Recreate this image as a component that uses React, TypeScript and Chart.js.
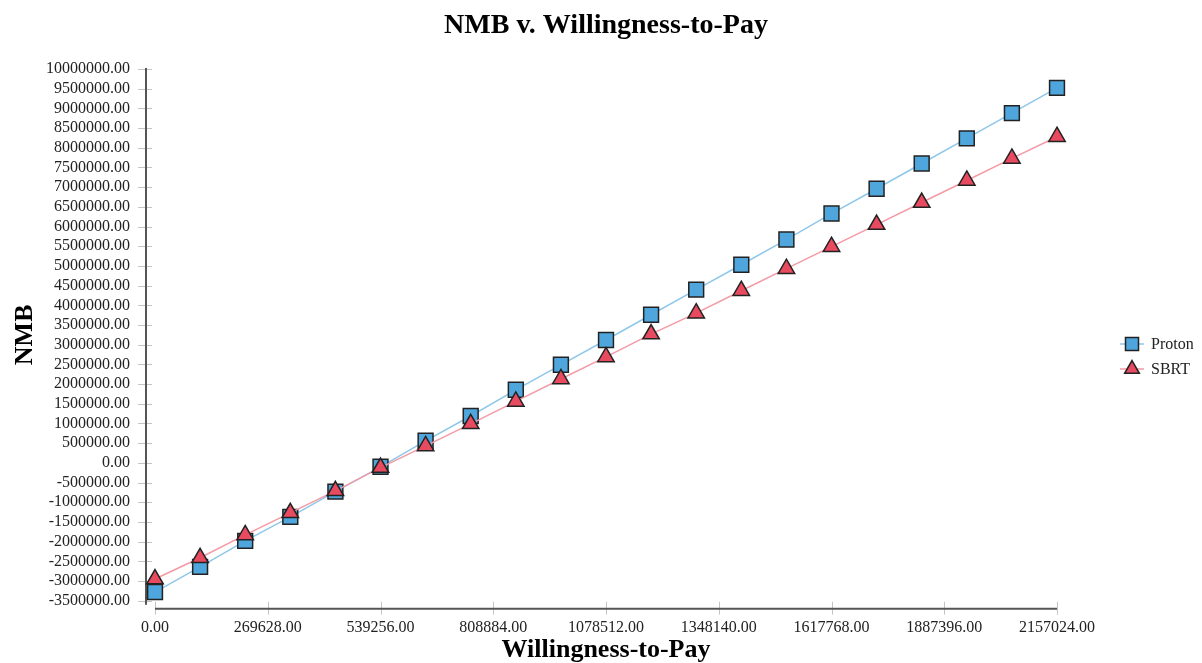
import React, { useEffect, useRef } from "react";
import { Chart, registerables } from "chart.js";

Chart.register(...registerables);

const chartTitle = "NMB v. Willingness-to-Pay";
const xTitle = "Willingness-to-Pay";
const yTitle = "NMB";

const wtp = [
  0, 107851.2, 215702.4, 323553.6, 431404.8, 539256, 647107.2, 754958.4,
  862809.6, 970660.8, 1078512, 1186363.2, 1294214.4, 1402065.6, 1509916.8,
  1617768, 1725619.2, 1833470.4, 1941321.6, 2049172.8, 2157024,
];

const protonNmb = [
  -3280000, -2640000, -1980000, -1370000, -730000, -100000, 560000, 1190000,
  1855000, 2490000, 3120000, 3760000, 4400000, 5030000, 5670000, 6330000,
  6960000, 7600000, 8240000, 8880000, 9520000,
];

const sbrtNmb = [
  -2950000, -2410000, -1830000, -1270000, -710000, -120000, 430000, 990000,
  1560000, 2130000, 2690000, 3270000, 3800000, 4370000, 4930000, 5490000,
  6050000, 6610000, 7170000, 7730000, 8280000,
];

const xMin = 0;
const xMax = 2157024;
const xStep = 269628;
const yMin = -3500000;
const yMax = 10000000;
const yStep = 500000;

const FONT = "'Liberation Serif', 'Times New Roman', serif";

const seriesStyles = [
  { label: "Proton", data: protonNmb, line: "#8ec7ea", fill: "#4ea6dc", shape: "rect", order: 1 },
  { label: "SBRT", data: sbrtNmb, line: "#f39aa5", fill: "#e84a5f", shape: "triangle", order: 0 },
];

const titlePlugin = {
  id: "centeredTitle",
  afterDraw(chart: any) {
    const { ctx } = chart;
    ctx.save();
    ctx.font = `bold 28px ${FONT}`;
    ctx.fillStyle = "#000";
    ctx.textAlign = "center";
    ctx.textBaseline = "middle";
    ctx.fillText(chartTitle, chart.width / 2 + 5, 26);
    ctx.restore();
  },
};

const axesPlugin = {
  id: "customAxes",
  beforeDatasetsDraw(chart: any) {
    const { ctx, chartArea, scales } = chart;
    const xs = scales.x;
    const ys = scales.y;
    const axisX = chartArea.left - 9;
    const axisY = chartArea.bottom + 8;
    ctx.save();
    ctx.strokeStyle = "#c4c4c4";
    ctx.lineWidth = 1;
    ys.ticks.forEach((t: any) => {
      const py = Math.round(ys.getPixelForValue(t.value)) + 0.5;
      ctx.beginPath();
      ctx.moveTo(axisX - 8, py);
      ctx.lineTo(axisX + 6, py);
      ctx.stroke();
    });
    xs.ticks.forEach((t: any) => {
      const px = Math.round(xs.getPixelForValue(t.value)) + 0.5;
      ctx.beginPath();
      ctx.moveTo(px, axisY - 7);
      ctx.lineTo(px, axisY + 6);
      ctx.stroke();
    });
    ctx.strokeStyle = "#555";
    ctx.lineWidth = 2;
    ctx.beginPath();
    ctx.moveTo(axisX, chartArea.top - 1);
    ctx.lineTo(axisX, chartArea.bottom + 4);
    ctx.stroke();
    ctx.beginPath();
    ctx.moveTo(chartArea.left, axisY);
    ctx.lineTo(chartArea.right, axisY);
    ctx.stroke();
    ctx.restore();
  },
};

function drawMarker(ctx: CanvasRenderingContext2D, shape: string, x: number, y: number, fill: string) {
  ctx.beginPath();
  if (shape === "rect") {
    ctx.rect(x - 6.5, y - 6.5, 13, 13);
  } else {
    const r = 8.5;
    ctx.moveTo(x, y - r);
    ctx.lineTo(x + r * 0.866, y + r / 2);
    ctx.lineTo(x - r * 0.866, y + r / 2);
    ctx.closePath();
  }
  ctx.fillStyle = fill;
  ctx.fill();
  ctx.strokeStyle = "#222";
  ctx.lineWidth = 1.5;
  ctx.stroke();
}

const legendPlugin = {
  id: "customLegend",
  afterDraw(chart: any) {
    const { ctx, chartArea } = chart;
    const x0 = chartArea.right + 63;
    const y0 = 344;
    ctx.save();
    ctx.font = `16px ${FONT}`;
    ctx.textBaseline = "middle";
    ctx.textAlign = "left";
    seriesStyles.forEach((s, i) => {
      const y = y0 + i * 25;
      ctx.strokeStyle = s.line;
      ctx.lineWidth = 1.5;
      ctx.beginPath();
      ctx.moveTo(x0, y);
      ctx.lineTo(x0 + 24, y);
      ctx.stroke();
      drawMarker(ctx, s.shape, x0 + 12, y, s.fill);
      ctx.fillStyle = "#222";
      ctx.fillText(s.label, x0 + 31, y + 1);
    });
    ctx.restore();
  },
};

export default function App() {
  const canvasRef = useRef<HTMLCanvasElement | null>(null);

  useEffect(() => {
    document.body.style.margin = "0";
    const canvas = canvasRef.current;
    if (!canvas) return;
    const chart = new Chart(canvas, {
      type: "line",
      data: {
        datasets: seriesStyles.map((s) => ({
          label: s.label,
          order: s.order,
          data: wtp.map((x, i) => ({ x, y: s.data[i] })),
          borderColor: s.line,
          borderWidth: 1.5,
          backgroundColor: s.fill,
          pointBackgroundColor: s.fill,
          pointBorderColor: "#222",
          pointBorderWidth: 1.5,
          pointStyle: s.shape as any,
          pointRadius: s.shape === "rect" ? 10.5 : 9.5,
          pointHoverRadius: s.shape === "rect" ? 10.5 : 9.5,
          tension: 0,
          clip: false as any,
        })),
      },
      options: {
        animation: false,
        responsive: true,
        maintainAspectRatio: false,
        layout: { padding: { left: 0, right: 145, top: 69, bottom: 0 } },
        plugins: {
          legend: { display: false },
          tooltip: { enabled: false },
          title: { display: false },
        },
        scales: {
          x: {
            type: "linear",
            min: xMin,
            max: xMax,
            afterFit: (scale: any) => {
              scale.height = 62.3;
            },
            grid: { display: false, drawTicks: false },
            border: { display: false },
            ticks: {
              stepSize: xStep,
              padding: 17,
              color: "#222",
              font: { family: FONT, size: 16 },
              maxRotation: 0,
              autoSkip: false,
              callback: (v: any) => Number(v).toFixed(2),
            },
            title: {
              display: true,
              text: xTitle,
              color: "#000",
              font: { family: FONT, size: 26, weight: "bold", lineHeight: 1 },
              padding: { top: 0, bottom: 0 },
            },
          },
          y: {
            type: "linear",
            min: yMin,
            max: yMax,
            afterFit: (scale: any) => {
              scale.width = 155;
            },
            grid: { display: false, drawTicks: false },
            border: { display: false },
            ticks: {
              stepSize: yStep,
              padding: 25,
              color: "#222",
              font: { family: FONT, size: 16 },
              autoSkip: false,
              callback: (v: any) => Number(v).toFixed(2),
            },
            title: {
              display: true,
              text: yTitle,
              color: "#000",
              font: { family: FONT, size: 26, weight: "bold", lineHeight: 1 },
              padding: { top: 12, bottom: 8 },
            },
          },
        },
      },
      plugins: [axesPlugin, legendPlugin, titlePlugin],
    });
    return () => chart.destroy();
  }, []);

  return (
    <div style={{ width: 1202, height: 663, position: "relative", background: "#fff" }}>
      <canvas ref={canvasRef} />
    </div>
  );
}
